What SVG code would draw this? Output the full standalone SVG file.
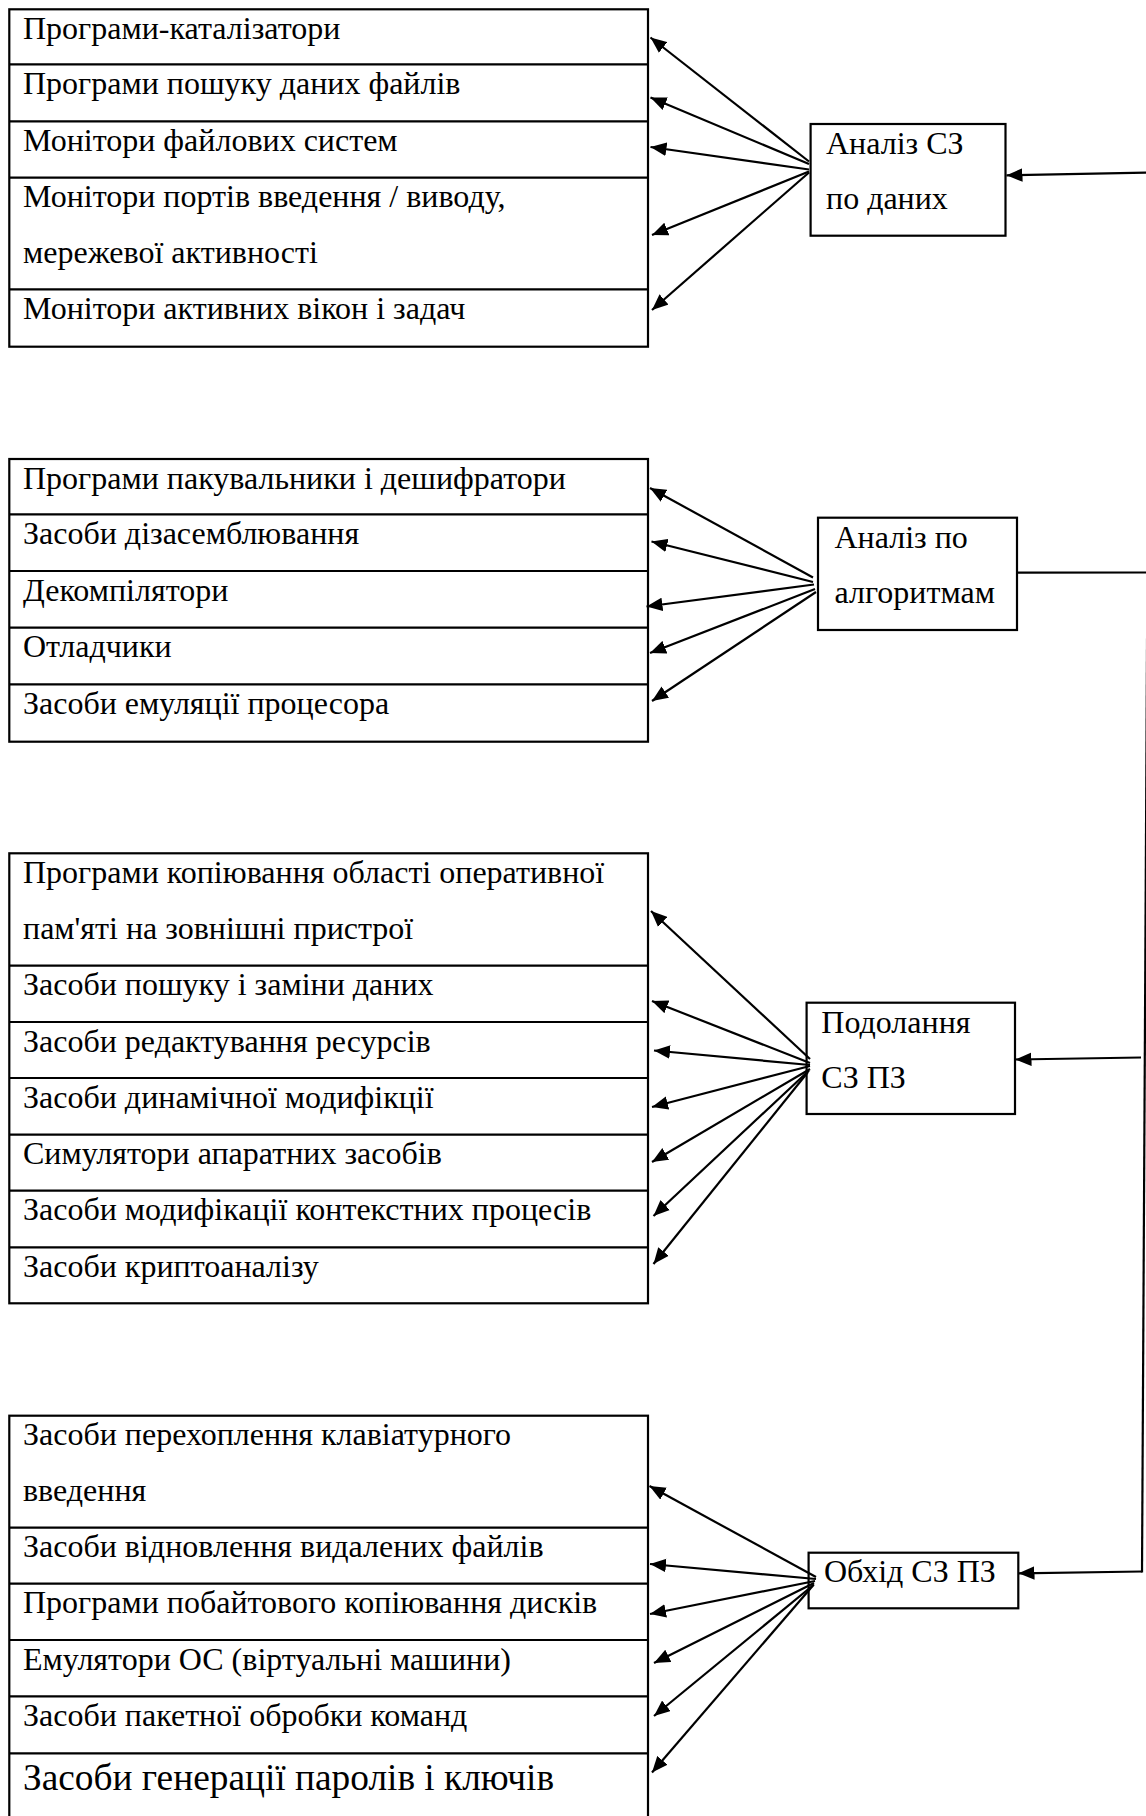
<svg xmlns="http://www.w3.org/2000/svg" width="1146" height="1816" viewBox="0 0 1146 1816">
  <defs>
    <style>
      .box { fill: #fff; stroke: #000; stroke-width: 2.2; }
      .sep { stroke: #000; stroke-width: 2.2; }
      .conn { stroke: #000; stroke-width: 2.2; fill: none; }
      .arr { marker-end: url(#ah); }
      text { font-family: "Liberation Serif", "Times New Roman", serif; font-size: 32px; fill: #000; }
      .big { font-size: 37.33px; }
    </style>
    <marker id="ah" markerUnits="userSpaceOnUse" markerWidth="16" markerHeight="14" viewBox="0 -7 16 14" refX="16" refY="0" orient="auto">
      <path d="M0,-6.8 L16,0 L0,6.8 z" fill="#000"/>
    </marker>
  </defs>
  <rect width="1146" height="1816" fill="#fff"/>

  <!-- Data analysis tools -->
  <g id="list-data">
    <rect class="box" x="9.3" y="9.3" width="638.7" height="337.4"/>
    <line class="sep" x1="9.3" y1="64.3" x2="648" y2="64.3"/>
    <line class="sep" x1="9.3" y1="121.3" x2="648" y2="121.3"/>
    <line class="sep" x1="9.3" y1="177.7" x2="648" y2="177.7"/>
    <line class="sep" x1="9.3" y1="289.3" x2="648" y2="289.3"/>
    <text x="23" y="38.8">Програми-каталізатори</text>
    <text x="23" y="93.8">Програми пошуку даних файлів</text>
    <text x="23" y="150.8">Монітори файлових систем</text>
    <text x="23" y="207.2">Монітори портів введення / виводу,</text>
    <text x="23" y="262.9">мережевої активності</text>
    <text x="23" y="318.8">Монітори активних вікон і задач</text>
  </g>

  <!-- Algorithm analysis tools -->
  <g id="list-algo">
    <rect class="box" x="9.3" y="459" width="638.7" height="282.7"/>
    <line class="sep" x1="9.3" y1="514.3" x2="648" y2="514.3"/>
    <line class="sep" x1="9.3" y1="571" x2="648" y2="571"/>
    <line class="sep" x1="9.3" y1="627.7" x2="648" y2="627.7"/>
    <line class="sep" x1="9.3" y1="684.3" x2="648" y2="684.3"/>
    <text x="23" y="488.5">Програми пакувальники і дешифратори</text>
    <text x="23" y="543.8">Засоби дізасемблювання</text>
    <text x="23" y="600.5">Декомпілятори</text>
    <text x="23" y="657.2">Отладчики</text>
    <text x="23" y="713.8">Засоби емуляції процесора</text>
  </g>

  <!-- Protection overcoming tools -->
  <g id="list-overcome">
    <rect class="box" x="9.3" y="853.3" width="638.7" height="450"/>
    <line class="sep" x1="9.3" y1="965.7" x2="648" y2="965.7"/>
    <line class="sep" x1="9.3" y1="1022" x2="648" y2="1022"/>
    <line class="sep" x1="9.3" y1="1078" x2="648" y2="1078"/>
    <line class="sep" x1="9.3" y1="1134.7" x2="648" y2="1134.7"/>
    <line class="sep" x1="9.3" y1="1190.7" x2="648" y2="1190.7"/>
    <line class="sep" x1="9.3" y1="1247.3" x2="648" y2="1247.3"/>
    <text x="23" y="882.8">Програми копіювання області оперативної</text>
    <text x="23" y="938.5">пам'яті на зовнішні пристрої</text>
    <text x="23" y="995.2">Засоби пошуку і заміни даних</text>
    <text x="23" y="1051.5">Засоби редактування ресурсів</text>
    <text x="23" y="1107.5">Засоби динамічної модифікції</text>
    <text x="23" y="1164.2">Симулятори апаратних засобів</text>
    <text x="23" y="1220.2">Засоби модифікації контекстних процесів</text>
    <text x="23" y="1276.8">Засоби криптоаналізу</text>
  </g>

  <!-- Protection bypass tools -->
  <g id="list-bypass">
    <rect class="box" x="9.3" y="1415.7" width="638.7" height="410"/>
    <line class="sep" x1="9.3" y1="1527.7" x2="648" y2="1527.7"/>
    <line class="sep" x1="9.3" y1="1583.7" x2="648" y2="1583.7"/>
    <line class="sep" x1="9.3" y1="1640" x2="648" y2="1640"/>
    <line class="sep" x1="9.3" y1="1696.3" x2="648" y2="1696.3"/>
    <line class="sep" x1="9.3" y1="1753.3" x2="648" y2="1753.3"/>
    <text x="23" y="1445.2">Засоби перехоплення клавіатурного</text>
    <text x="23" y="1500.9">введення</text>
    <text x="23" y="1557.2">Засоби відновлення видалених файлів</text>
    <text x="23" y="1613.2">Програми побайтового копіювання дисків</text>
    <text x="23" y="1669.5">Емулятори ОС (віртуальні машини)</text>
    <text x="23" y="1725.8">Засоби пакетної обробки команд</text>
    <text class="big" x="23" y="1790">Засоби генерації паролів і ключів</text>
  </g>

  <!-- Category nodes -->
  <g id="node-data">
    <rect class="box" x="810.6" y="124" width="194.9" height="111.7"/>
    <text x="826" y="154">Аналіз СЗ</text>
    <text x="826" y="209">по даних</text>
  </g>
  <g id="node-algo">
    <rect class="box" x="818" y="517.7" width="199" height="112.3"/>
    <text x="834.5" y="548.3">Аналіз по</text>
    <text x="834.5" y="603.3">алгоритмам</text>
  </g>
  <g id="node-overcome">
    <rect class="box" x="806.6" y="1002.7" width="208.4" height="111.3"/>
    <text x="821.3" y="1032.7">Подолання</text>
    <text x="821.3" y="1087.7">СЗ ПЗ</text>
  </g>
  <g id="node-bypass">
    <rect class="box" x="808.6" y="1552.7" width="209.7" height="55.6"/>
    <text x="824" y="1581.7">Обхід СЗ ПЗ</text>
  </g>

  <!-- Connectors -->
  <g id="connectors">
    <!-- trunk on the right edge -->
    <line class="conn" x1="1149.6" y1="172" x2="1142" y2="1572.5"/>
    <line class="conn arr" x1="1149.5" y1="172.6" x2="1006.5" y2="175.3"/>
    <line class="conn" x1="1018" y1="572.7" x2="1149" y2="572.5"/>
    <line class="conn arr" x1="1141" y1="1057.5" x2="1015.5" y2="1059.5"/>
    <line class="conn arr" x1="1142" y1="1571.5" x2="1018.5" y2="1573.3"/>

    <!-- fan: data analysis -->
    <line class="conn arr" x1="809" y1="161.5" x2="650.5" y2="37.5"/>
    <line class="conn arr" x1="809" y1="164" x2="650.5" y2="97.5"/>
    <line class="conn arr" x1="809" y1="169.5" x2="650.5" y2="147"/>
    <line class="conn arr" x1="809" y1="171.5" x2="652" y2="235"/>
    <line class="conn arr" x1="809" y1="172.5" x2="652" y2="310"/>

    <!-- fan: algorithm analysis -->
    <line class="conn arr" x1="813" y1="577.5" x2="650" y2="488"/>
    <line class="conn arr" x1="813" y1="582" x2="651.5" y2="541.5"/>
    <line class="conn arr" x1="814" y1="584.5" x2="646.5" y2="606.5"/>
    <line class="conn arr" x1="815" y1="589" x2="650" y2="653"/>
    <line class="conn arr" x1="816" y1="592" x2="652" y2="701"/>

    <!-- fan: overcoming protection -->
    <line class="conn arr" x1="810" y1="1059" x2="651" y2="911"/>
    <line class="conn arr" x1="810" y1="1063" x2="652" y2="1001"/>
    <line class="conn arr" x1="810" y1="1065" x2="654" y2="1050.5"/>
    <line class="conn arr" x1="810" y1="1066" x2="652" y2="1107"/>
    <line class="conn arr" x1="810" y1="1069" x2="652" y2="1162"/>
    <line class="conn arr" x1="809" y1="1070.5" x2="653.5" y2="1216"/>
    <line class="conn arr" x1="808" y1="1072" x2="653.5" y2="1264"/>

    <!-- fan: bypassing protection -->
    <line class="conn arr" x1="816" y1="1577" x2="649.5" y2="1486"/>
    <line class="conn arr" x1="816" y1="1579" x2="650" y2="1564"/>
    <line class="conn arr" x1="815" y1="1581" x2="650" y2="1614"/>
    <line class="conn arr" x1="814" y1="1583" x2="654" y2="1663"/>
    <line class="conn arr" x1="814" y1="1584.5" x2="654" y2="1716"/>
    <line class="conn arr" x1="813" y1="1585.5" x2="652" y2="1772.5"/>
  </g>
</svg>
